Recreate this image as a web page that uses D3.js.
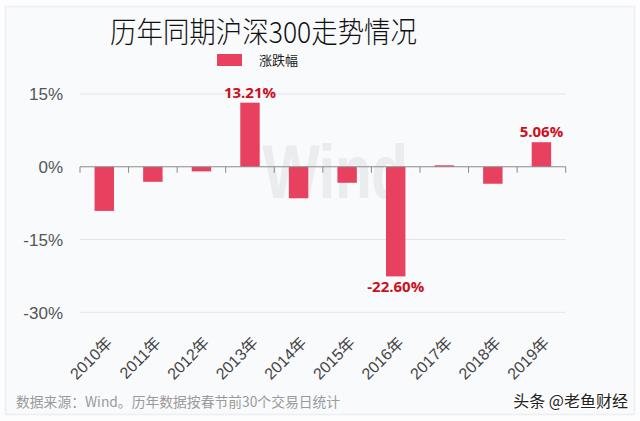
<!DOCTYPE html>
<html><head><meta charset="utf-8">
<script src="https://cdn.jsdelivr.net/npm/d3@7"></script>
<style>
html,body{margin:0;padding:0;background:#ffffff;}
svg{display:block;}
</style></head>
<body>
<svg id="c" width="640" height="421"></svg>
<script>
const categories = ["2010年","2011年","2012年","2013年","2014年","2015年","2016年","2017年","2018年","2019年"];
const values = [-9.1, -3.1, -0.95, 13.21, -6.5, -3.3, -22.60, 0.3, -3.5, 5.06];
const labeledIdx = [3, 6, 9];
const yTicks = [15, 0, -15, -30];
const title = "历年同期沪深300走势情况";
const seriesName = "涨跌幅";
const source = "数据来源：Wind。历年数据按春节前30个交易日统计";
const brand = "头条 @老鱼财经";

const svg = d3.select("#c");
const W = 640, H = 421;
const font = "'Noto Sans CJK SC','Noto Sans',sans-serif";
const latin = "'Liberation Sans',Arial,'Noto Sans CJK SC',sans-serif";

// card
svg.append("rect").attr("x",0).attr("y",0).attr("width",W).attr("height",H).attr("fill","#fdfdfe");
svg.append("rect").attr("x",5.5).attr("y",6.5).attr("width",629).attr("height",408)
  .attr("fill","#f9fafc").attr("stroke","#eceef2").attr("stroke-width",1.5);

const x = d3.scaleBand().domain(categories).range([80, 565.7]).paddingInner(0.6).paddingOuter(0.3);
const xb = d3.scaleBand().domain(categories).range([80, 565.7]);
const y = d3.scaleLinear().domain([-30, 15]).range([312.3, 94]);

// gridlines
svg.append("g").selectAll("line").data(yTicks.filter(d=>d!==0)).join("line")
  .attr("x1",80).attr("x2",565.7).attr("y1",d=>y(d)).attr("y2",d=>y(d))
  .attr("stroke","#e3e5e9").attr("stroke-width",1);

// watermark
svg.append("text").attr("x",335).attr("y",198).attr("text-anchor","middle")
  .attr("font-family","'Liberation Sans',Arial,sans-serif").attr("font-weight","bold")
  .attr("font-size",76).attr("fill","#ebecee").attr("letter-spacing",-1)
  .attr("textLength",145).attr("lengthAdjust","spacingAndGlyphs").text("Wind");

// y axis labels
const yAxis = d3.axisLeft(y).tickValues(yTicks).tickSize(0).tickPadding(0).tickFormat(d=>d+"%");
const ga = svg.append("g").attr("transform","translate(63,0)").call(yAxis);
ga.select(".domain").remove();
ga.selectAll("text").attr("font-family","'Liberation Sans',Arial,sans-serif").attr("font-size",17)
  .attr("fill","#555").attr("dy","0.35em");

// bars
svg.append("g").selectAll("rect").data(values).join("rect")
  .attr("x",(d,i)=>x(categories[i]))
  .attr("width",x.bandwidth())
  .attr("y",d=>y(Math.max(0,d)))
  .attr("height",d=>Math.abs(y(d)-y(0)))
  .attr("fill","#e8405f");

// zero axis with ticks at band boundaries
const xAxis = d3.axisBottom(xb).tickSize(0).tickFormat("");
const gx = svg.append("g").attr("transform",`translate(0,${y(0)})`).call(xAxis);
gx.select(".domain").attr("stroke","#8a8a8a").attr("d",`M80,0H565.7`);
const bounds = categories.map(c=>xb(c)).concat([xb(categories[categories.length-1])+xb.bandwidth()]);
gx.selectAll(".bt").data(bounds).join("line").attr("class","bt")
  .attr("x1",d=>d).attr("x2",d=>d).attr("y1",0).attr("y2",6).attr("stroke","#8a8a8a");

// x labels rotated
svg.append("g").selectAll("text").data(categories).join("text")
  .attr("transform",d=>`translate(${xb(d)+xb.bandwidth()/2+9},${344}) rotate(-45)`)
  .attr("text-anchor","end")
  .attr("font-family",latin).attr("font-size",16).attr("fill","#444").text(d=>d);

// value labels
svg.append("g").selectAll("text").data(labeledIdx).join("text")
  .attr("x",i=>x(categories[i])+x.bandwidth()/2)
  .attr("y",i=>values[i]>=0 ? y(values[i])-5 : y(values[i])+16)
  .attr("text-anchor","middle")
  .attr("font-family","'Open Sans','DejaVu Sans',sans-serif").attr("font-weight","bold")
  .attr("font-size",15).attr("fill","#cc1020").text(i=>values[i].toFixed(2)+"%");

// title
svg.append("text").attr("x",110).attr("y",43)
  .attr("font-family",font).attr("font-size",29).attr("font-weight",300).attr("fill","#111")
  .attr("textLength",307).attr("lengthAdjust","spacingAndGlyphs").text(title);

// legend
svg.append("rect").attr("x",217).attr("y",54).attr("width",25).attr("height",12).attr("fill","#e8405f");
svg.append("text").attr("x",259).attr("y",65).attr("font-family",font).attr("font-size",13)
  .attr("fill","#222").text(seriesName);

// footer
svg.append("text").attr("x",16).attr("y",407).attr("font-family","'Noto Sans CJK SC','DejaVu Sans Mono',monospace")
  .attr("font-size",13.8).attr("fill","#9a9a9a").text(source);
svg.append("text").attr("x",628).attr("y",407).attr("text-anchor","end")
  .attr("font-family",font).attr("font-size",16).attr("fill","#222")
  .attr("stroke","#fff").attr("stroke-width",3).attr("paint-order","stroke").text(brand);
</script>
</body></html>
